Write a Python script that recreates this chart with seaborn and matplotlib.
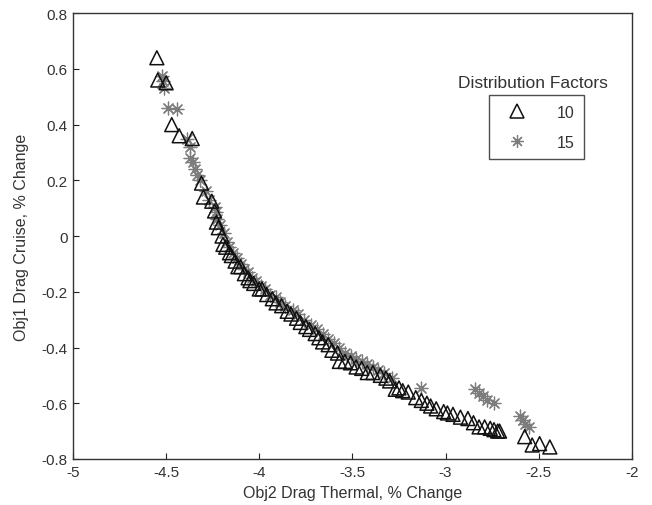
import matplotlib
matplotlib.use("Agg")
import matplotlib.pyplot as plt
from matplotlib.lines import Line2D
import seaborn as sns
import pandas as pd

# Distribution factor 10 (triangles)
x10 = [-4.55, -4.545, -4.50, -4.47, -4.43, -4.36, -4.31, -4.30, -4.255, -4.24,
       -4.23, -4.22, -4.20, -4.195, -4.18, -4.16, -4.15, -4.13, -4.115, -4.10,
       -4.08, -4.06, -4.05, -4.03, -4.00, -3.985, -3.96, -3.93, -3.91, -3.88,
       -3.85, -3.83, -3.80, -3.78, -3.75, -3.73, -3.70, -3.68, -3.66, -3.63,
       -3.61, -3.58, -3.57, -3.54, -3.51, -3.48, -3.45, -3.42, -3.39, -3.35,
       -3.32, -3.30, -3.27, -3.25, -3.23, -3.20, -3.16, -3.13, -3.10, -3.08,
       -3.05, -3.01, -2.99, -2.96, -2.92, -2.88, -2.85, -2.82, -2.79, -2.76,
       -2.74, -2.72, -2.71, -2.575, -2.535, -2.495, -2.44]
y10 = [0.64, 0.56, 0.55, 0.40, 0.36, 0.35, 0.19, 0.14, 0.125, 0.09,
       0.05, 0.03, 0.00, -0.03, -0.04, -0.06, -0.07, -0.09, -0.11, -0.11,
       -0.135, -0.15, -0.16, -0.17, -0.19, -0.19, -0.21, -0.225, -0.24, -0.25,
       -0.27, -0.28, -0.295, -0.31, -0.325, -0.335, -0.35, -0.365, -0.38, -0.39,
       -0.41, -0.42, -0.45, -0.45, -0.455, -0.47, -0.475, -0.49, -0.49, -0.50,
       -0.51, -0.52, -0.55, -0.545, -0.555, -0.56, -0.58, -0.59, -0.60, -0.61,
       -0.62, -0.63, -0.635, -0.64, -0.65, -0.655, -0.67, -0.685, -0.685, -0.69,
       -0.695, -0.70, -0.70, -0.72, -0.75, -0.745, -0.757]

# Distribution factor 15 (asterisks)
x15 = [-4.52, -4.515, -4.51, -4.49, -4.44, -4.39, -4.37, -4.37, -4.355, -4.345,
       -4.335, -4.32, -4.285, -4.27, -4.24, -4.235, -4.225, -4.21, -4.19, -4.175,
       -4.16, -4.14, -4.12, -4.10, -4.08, -4.06, -4.04, -4.02, -3.99, -3.97,
       -3.94, -3.91, -3.89, -3.86, -3.82, -3.79, -3.76, -3.72, -3.69, -3.66,
       -3.63, -3.60, -3.57, -3.54, -3.51, -3.48, -3.45, -3.42, -3.39, -3.36,
       -3.33, -3.29, -3.13, -2.84, -2.82, -2.80, -2.78, -2.74, -2.60, -2.585,
       -2.575, -2.55]
y15 = [0.575, 0.555, 0.53, 0.46, 0.455, 0.35, 0.32, 0.28, 0.265, 0.24,
       0.22, 0.20, 0.16, 0.13, 0.105, 0.085, 0.06, 0.04, 0.01, -0.02,
       -0.04, -0.06, -0.08, -0.10, -0.12, -0.13, -0.15, -0.16, -0.18, -0.19,
       -0.21, -0.22, -0.235, -0.25, -0.265, -0.28, -0.30, -0.32, -0.335, -0.35,
       -0.37, -0.385, -0.40, -0.42, -0.43, -0.44, -0.45, -0.46, -0.47, -0.48,
       -0.49, -0.51, -0.545, -0.55, -0.565, -0.575, -0.59, -0.60, -0.645, -0.66,
       -0.675, -0.685]

factor_labels = ["10", "15"]
x_ticks = [-5, -4.5, -4, -3.5, -3, -2.5, -2]
y_ticks = [-0.8, -0.6, -0.4, -0.2, 0, 0.2, 0.4, 0.6, 0.8]

sns.set_theme(style="white")
plt.rcParams["font.family"] = ["Liberation Sans", "DejaVu Sans"]

df10 = pd.DataFrame({"thermal": x10, "cruise": y10})
df15 = pd.DataFrame({"thermal": x15, "cruise": y15})

fig = plt.figure(figsize=(6.52, 5.06), dpi=100)
ax = fig.add_axes([0.112, 0.091, 0.857, 0.881])

star = (8, 2, 0)
star_color = "#7d7d7d"

sns.scatterplot(data=df10, x="thermal", y="cruise", ax=ax, marker="^",
                s=100, facecolors="none", edgecolor="#111111", linewidth=1.1,
                zorder=3)
sns.scatterplot(data=df15, x="thermal", y="cruise", ax=ax, marker=star,
                s=85, color=star_color, edgecolor=star_color, linewidth=0.9,
                zorder=2)

ax.set_xlim(-5, -2)
ax.set_ylim(-0.8, 0.8)
ax.set_xticks(x_ticks)
ax.set_xticklabels(["-5", "-4.5", "-4", "-3.5", "-3", "-2.5", "-2"])
ax.set_yticks(y_ticks)
ax.set_yticklabels(["-0.8", "-0.6", "-0.4", "-0.2", "0", "0.2", "0.4", "0.6", "0.8"])

text_color = "#333333"
ax.set_xlabel("Obj2 Drag Thermal, % Change", fontsize=11.5, color=text_color, labelpad=5)
ax.set_ylabel("Obj1 Drag Cruise, % Change", fontsize=11.5, color=text_color, labelpad=9)
ax.tick_params(axis="both", direction="in", length=4, width=0.8, colors="#222222",
               labelsize=11, labelcolor=text_color, pad=4,
               bottom=True, left=True, top=False, right=False)
for sp in ax.spines.values():
    sp.set_color("#333333")
    sp.set_linewidth(1.0)

handles = [
    Line2D([], [], linestyle="none", marker="^", markersize=10,
           markerfacecolor="none", markeredgecolor="#111111", markeredgewidth=1.1),
    Line2D([], [], linestyle="none", marker=star, markersize=9,
           color=star_color, markeredgewidth=0.9),
]
leg = ax.legend(handles, factor_labels, loc="upper left",
                bbox_to_anchor=(0.75, 0.81), bbox_transform=fig.transFigure,
                frameon=True, fancybox=False, fontsize=11.5, handlelength=2.3,
                handletextpad=1.35, borderpad=0.6, labelspacing=0.95,
                borderaxespad=0)
leg.get_frame().set_edgecolor("#222222")
leg.get_frame().set_linewidth(1.0)
for t in leg.get_texts():
    t.set_color(text_color)

fig.text(0.818, 0.834, "Distribution Factors", ha="center", va="center",
         fontsize=12.5, color=text_color)

fig.savefig("out.png", dpi=100)
